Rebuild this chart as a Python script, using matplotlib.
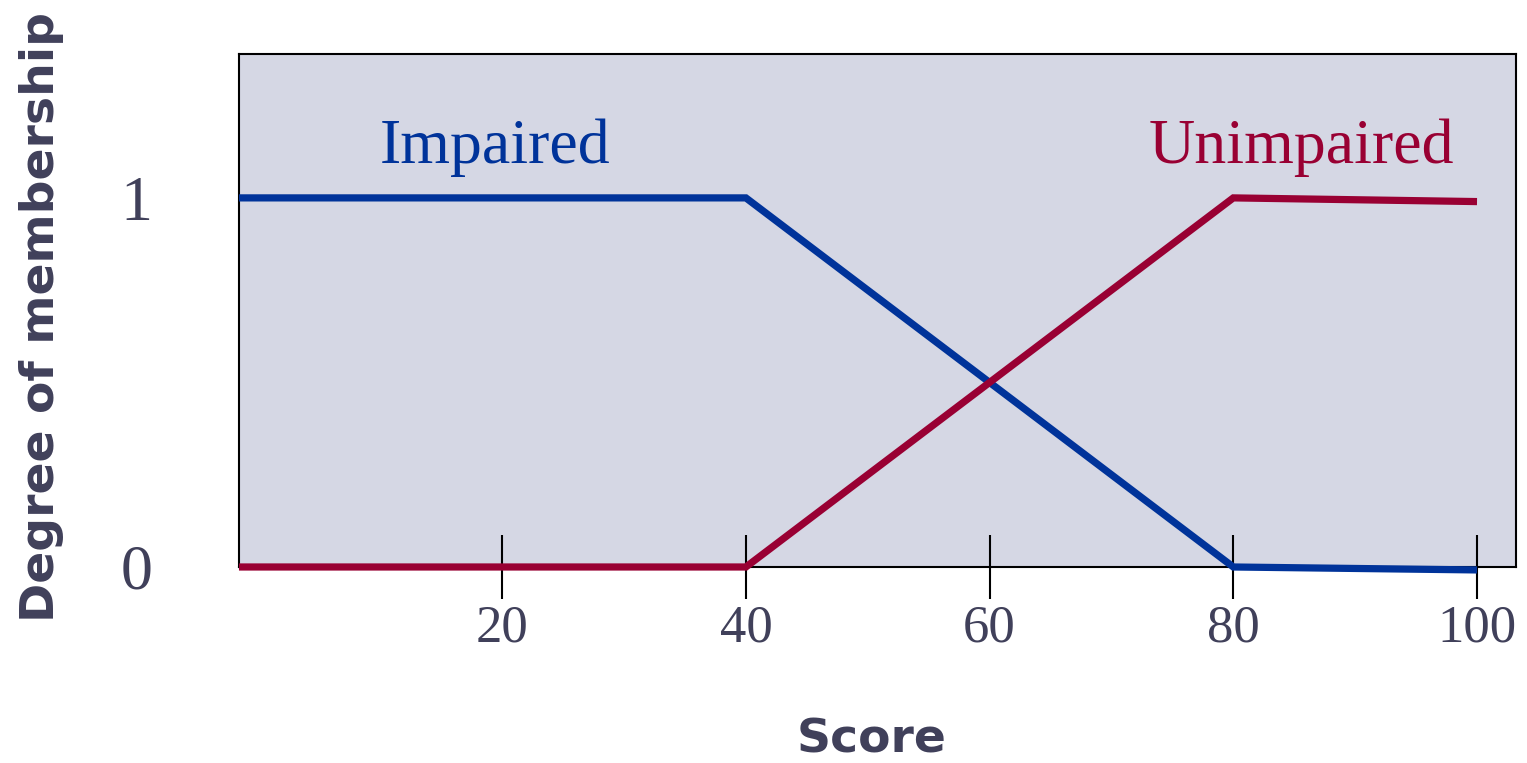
import matplotlib.pyplot as plt

# membership functions
score = [-1.6, 40, 80, 100]
impaired = [1, 1, 0, -0.008]
unimpaired = [0, 0, 1, 0.99]
x_ticks = [20, 40, 60, 80, 100]
y_ticks = [0, 1]

blue = '#00339a'
red = '#990033'
grey = '#40405a'

fig = plt.figure(figsize=(15.27, 7.63), dpi=100)
ax = fig.add_axes([0.1565, 0.2569, 0.8363, 0.6724])
ax.set_facecolor('#d5d7e4')

ax.plot(score, impaired, color=blue, lw=5.2, solid_joinstyle='miter', solid_capstyle='butt',
        clip_on=False, zorder=3)
ax.plot(score, unimpaired, color=red, lw=5.2, solid_joinstyle='miter', solid_capstyle='butt',
        clip_on=False, zorder=3)

ax.text(19.4, 1.095, 'Impaired', color=blue, fontsize=46, family='Liberation Serif',
        ha='center', va='baseline')
ax.text(85.6, 1.095, 'Unimpaired', color=red, fontsize=46, family='Liberation Serif',
        ha='center', va='baseline')

ax.set_xlim(score[0], 103.2)
ax.set_ylim(0, 1.39)

ax.set_xticks(x_ticks)
ax.set_xticklabels([str(t) for t in x_ticks], family='Liberation Serif', fontsize=38, color=grey)
ax.tick_params(axis='x', direction='inout', length=46, width=1.5, color='black', pad=4)
ax.set_yticks(y_ticks)
ax.set_yticklabels([str(t) for t in y_ticks], family='Liberation Serif', fontsize=46, color=grey)
ax.tick_params(axis='y', length=0, pad=62)

for s in ax.spines.values():
    s.set_linewidth(1.5)
    s.set_color('black')

fig.text(0.027, 0.585, 'Degree of membership', rotation=90, fontsize=34, fontweight='bold',
         color=grey, ha='center', va='center')
fig.text(0.571, 0.03, 'Score', fontsize=34, fontweight='bold', color=grey,
         ha='center', va='center')

fig.savefig('out.png', dpi=100)
